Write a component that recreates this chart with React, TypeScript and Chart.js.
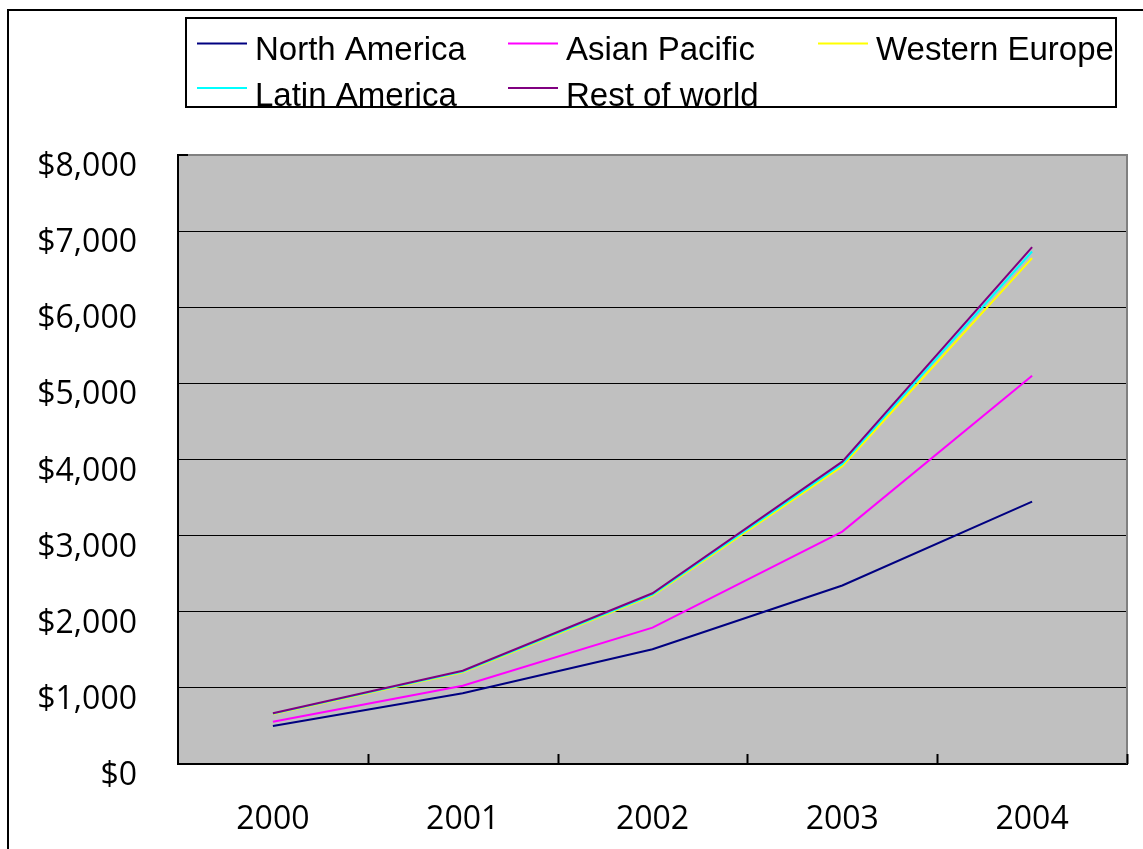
import React, { useEffect, useRef } from "react";
import { Chart, registerables } from "chart.js";

Chart.register(...registerables);

const years = ["2000", "2001", "2002", "2003", "2004"];
const seriesNames = ["North America", "Asian Pacific", "Western Europe", "Latin America", "Rest of world"];
const northAmerica = [500, 929, 1507, 2345, 3447];
const asianPacific = [556, 1029, 1791, 3053, 5101];
const westernEurope = [658, 1205, 2212, 3912, 6645];
const latinAmerica = [662, 1215, 2225, 3942, 6732];
const restOfWorld = [666, 1226, 2243, 3972, 6790];
const seriesColors = ["#000080", "#FF00FF", "#FFFF00", "#00FFFF", "#800080"];
const yMin = 0;
const yMax = 8000;
const yStep = 1000;

const W = 1143;
const H = 849;

const framePlugin = {
  id: "frame",
  beforeDraw(chart: any) {
    const ctx = chart.ctx;
    const a = chart.chartArea;
    ctx.save();
    ctx.fillStyle = "#ffffff";
    ctx.fillRect(0, 0, W, H);
    // outer chart border
    ctx.strokeStyle = "#000000";
    ctx.lineWidth = 2;
    ctx.strokeRect(8, 10, W + 20, H + 20);
    // plot background
    ctx.fillStyle = "#C0C0C0";
    ctx.fillRect(a.left, a.top, a.right - a.left, a.bottom - a.top);
    // legend
    const lx = 186, ly = 18, lw = 930, lh = 89;
    ctx.fillStyle = "#ffffff";
    ctx.fillRect(lx, ly, lw, lh);
    ctx.strokeStyle = "#000000";
    ctx.lineWidth = 2;
    ctx.strokeRect(lx, ly, lw, lh);
    const colX = [197, 508, 818];
    const rowLineY = [43.5, 88];
    const rowTextY = [60, 106];
    ctx.font = "33px 'Liberation Sans', Arial, sans-serif";
    ctx.textBaseline = "alphabetic";
    ctx.textAlign = "left";
    chart.data.datasets.forEach((ds: any, i: number) => {
      const c = i % 3;
      const r = Math.floor(i / 3);
      ctx.strokeStyle = ds.borderColor;
      ctx.lineWidth = 2;
      ctx.beginPath();
      ctx.moveTo(colX[c], rowLineY[r]);
      ctx.lineTo(colX[c] + 50, rowLineY[r]);
      ctx.stroke();
      ctx.fillStyle = "#000000";
      ctx.fillText(ds.label, colX[c] + 58, rowTextY[r]);
    });
    ctx.restore();
  },
  afterDraw(chart: any) {
    const ctx = chart.ctx;
    const a = chart.chartArea;
    const xs = chart.scales.x;
    ctx.save();
    // gray top and right border
    ctx.strokeStyle = "#808080";
    ctx.lineWidth = 2;
    ctx.beginPath();
    ctx.moveTo(a.left + 1, a.top);
    ctx.lineTo(a.right, a.top);
    ctx.lineTo(a.right, a.bottom);
    ctx.stroke();
    // inward tick at top of y axis
    ctx.strokeStyle = "#000000";
    ctx.beginPath();
    ctx.moveTo(a.left, a.top);
    ctx.lineTo(a.left + 10, a.top);
    ctx.stroke();
    // inward category ticks
    const n = chart.data.labels.length;
    const step = (a.right - a.left) / n;
    for (let i = 1; i <= n; i++) {
      const px = Math.round(xs.getPixelForValue(i - 1) + step / 2) + 0.5;
      ctx.lineWidth = 2;
      ctx.beginPath();
      ctx.moveTo(px, a.bottom);
      ctx.lineTo(px, a.bottom - 10);
      ctx.stroke();
    }
    ctx.restore();
  },
};

export default function App() {
  const ref = useRef<HTMLCanvasElement | null>(null);
  useEffect(() => {
    if (!ref.current) return;
    const series = [northAmerica, asianPacific, westernEurope, latinAmerica, restOfWorld];
    const chart = new Chart(ref.current, {
      type: "line",
      data: {
        labels: years,
        datasets: series.map((d, i) => ({
          label: seriesNames[i],
          data: d,
          borderColor: seriesColors[i],
          backgroundColor: seriesColors[i],
          borderWidth: 2,
          pointRadius: 0,
          tension: 0,
          fill: false,
          order: series.length - 1 - i,
        })),
      },
      options: {
        responsive: false,
        animation: false,
        devicePixelRatio: 1,
        layout: { padding: { top: 155, left: 0, right: 16, bottom: 0 } },
        plugins: { legend: { display: false }, tooltip: { enabled: false }, title: { display: false } },
        scales: {
          x: {
            type: "category",
            offset: true,
            grid: { display: true, drawOnChartArea: false, drawTicks: false, offset: true },
            border: { display: true, color: "#000000", width: 2 },
            ticks: {
              color: "#000000",
              font: { family: "'Open Sans', 'Noto Sans', sans-serif", size: 32 },
              padding: 37,
              maxRotation: 0,
              autoSkip: false,
            },
            afterFit(scale: any) {
              scale.height = 85;
            },
          },
          y: {
            min: yMin,
            max: yMax,
            grid: { color: "#000000", lineWidth: 1, drawTicks: false },
            border: { display: true, color: "#000000", width: 2 },
            ticks: {
              stepSize: yStep,
              color: "#000000",
              padding: 41,
              labelOffset: 12,
              font: { family: "'Open Sans', 'Noto Sans', sans-serif", size: 32 },
              callback: (v: any) => "$" + Number(v).toLocaleString("en-US"),
            },
            afterFit(scale: any) {
              scale.width = 178;
            },
          },
        },
      },
      plugins: [framePlugin],
    });
    return () => chart.destroy();
  }, []);
  return (
    <canvas
      ref={ref}
      width={W}
      height={H}
      style={{ position: "fixed", left: 0, top: 0, width: W, height: H }}
    />
  );
}
